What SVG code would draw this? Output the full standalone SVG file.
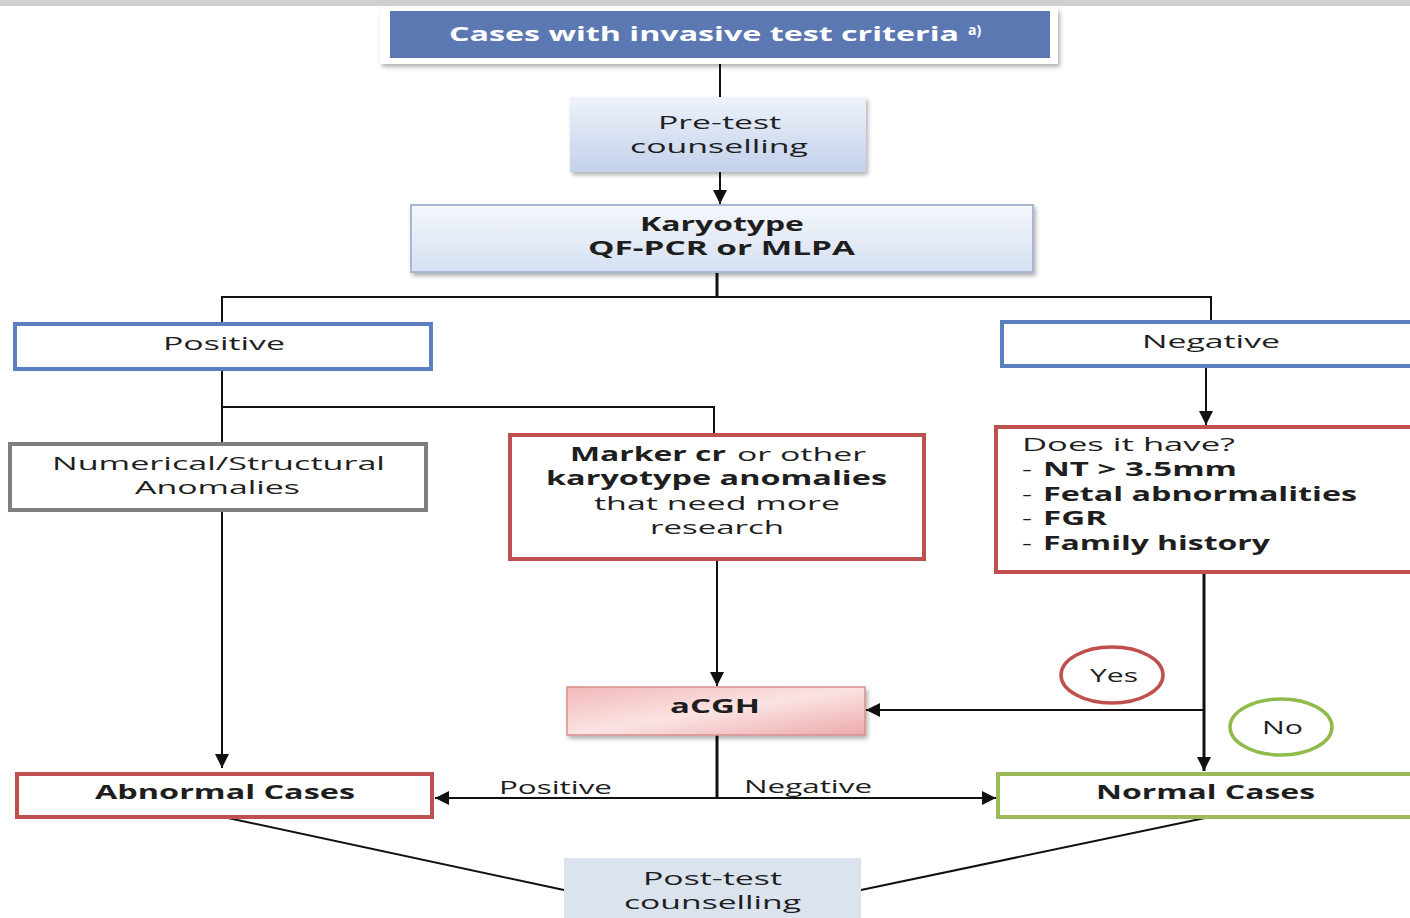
<svg xmlns="http://www.w3.org/2000/svg" width="1410" height="918" viewBox="0 0 1410 918">
<defs>
<linearGradient id="gBlue" x1="0" y1="0" x2="0" y2="1"><stop offset="0" stop-color="#eef2fa"/><stop offset="1" stop-color="#c3d1ec"/></linearGradient>
<linearGradient id="gKar" x1="0" y1="0" x2="0" y2="1"><stop offset="0" stop-color="#f4f7fc"/><stop offset="1" stop-color="#d6e0f2"/></linearGradient>
<linearGradient id="gPink" x1="0" y1="0" x2="1" y2="1"><stop offset="0" stop-color="#f2b8b8"/><stop offset="0.5" stop-color="#fbe3e3"/><stop offset="1" stop-color="#eda9a9"/></linearGradient>
<filter id="sh" x="-5%" y="-20%" width="110%" height="150%"><feDropShadow dx="2" dy="3" stdDeviation="2" flood-color="#000" flood-opacity="0.3"/></filter>
<marker id="arr" viewBox="0 0 10 10" refX="10" refY="5" markerWidth="14" markerHeight="14" markerUnits="userSpaceOnUse" orient="auto"><path d="M0,0 L10,5 L0,10 z" fill="#111"/></marker>
<style>
text{font-family:"Open Sans","DejaVu Sans",sans-serif;font-size:19px;fill:#1e1e1e}
.b{font-weight:bold}
.ln{fill:none;stroke:#111;stroke-width:2}
.th{fill:none;stroke:#111;stroke-width:3}
.box{fill:#fff;stroke-width:4}
</style>
</defs>
<rect x="0" y="0" width="1410" height="6" fill="#cfcfcf"/>
<g id="connectors">
<line class="ln" x1="720" y1="64" x2="720" y2="97"/>
<line class="ln" x1="720" y1="172" x2="720" y2="204" marker-end="url(#arr)"/>
<line class="th" x1="717" y1="272" x2="717" y2="297"/>
<polyline class="ln" points="222,323 222,297 1211,297 1211,321"/>
<line class="ln" x1="222" y1="370" x2="222" y2="443"/>
<polyline class="ln" points="222,407 714,407 714,434"/>
<line class="ln" x1="1206" y1="367" x2="1206" y2="425" marker-end="url(#arr)"/>
<line class="ln" x1="222" y1="511" x2="222" y2="768" marker-end="url(#arr)"/>
<line class="ln" x1="717" y1="560" x2="717" y2="686" marker-end="url(#arr)"/>
<line class="th" x1="1204" y1="573" x2="1204" y2="771" marker-end="url(#arr)"/>
<line class="ln" x1="1204" y1="710" x2="866" y2="710" marker-end="url(#arr)"/>
<line class="th" x1="717" y1="735" x2="717" y2="798"/>
<line class="ln" x1="717" y1="798" x2="435" y2="798" marker-end="url(#arr)"/>
<line class="ln" x1="717" y1="798" x2="996" y2="798" marker-end="url(#arr)"/>
<line class="ln" x1="228" y1="818" x2="564" y2="890" stroke-width="1.5"/>
<line class="ln" x1="1205" y1="818" x2="861" y2="890" stroke-width="1.5"/>
<text x="499" y="794" textLength="113" lengthAdjust="spacingAndGlyphs">Positive</text>
<text x="744" y="793" textLength="128" lengthAdjust="spacingAndGlyphs">Negative</text>
</g>
<g id="top">
<rect x="380" y="8" width="678" height="56" fill="#fff" filter="url(#sh)"/>
<rect x="390" y="11" width="660" height="47" fill="#5b78b3"/>
<text x="449" y="41" class="b" style="fill:#fff" textLength="510" lengthAdjust="spacingAndGlyphs">Cases with invasive test criteria</text>
<text x="968" y="35" class="b" style="fill:#fff;font-size:14px">a)</text>
</g>
<g id="pretest">
<rect x="570" y="97" width="296" height="75" fill="url(#gBlue)" filter="url(#sh)"/>
<text x="658" y="129" textLength="123" lengthAdjust="spacingAndGlyphs">Pre-test</text>
<text x="630" y="153" textLength="178" lengthAdjust="spacingAndGlyphs">counselling</text>
</g>
<g id="karyotype">
<rect x="411" y="205" width="622" height="67" fill="url(#gKar)" stroke="#a7b6d3" stroke-width="2" filter="url(#sh)"/>
<text x="640" y="231" class="b" textLength="164" lengthAdjust="spacingAndGlyphs">Karyotype</text>
<text x="588" y="255" class="b" textLength="267" lengthAdjust="spacingAndGlyphs">QF-PCR or MLPA</text>
</g>
<g id="positive">
<rect class="box" x="15" y="324" width="416" height="45" stroke="#5b7fc0"/>
<text x="163" y="350" textLength="122" lengthAdjust="spacingAndGlyphs">Positive</text>
</g>
<g id="negative">
<rect class="box" x="1002" y="322" width="412" height="44" stroke="#5b7fc0"/>
<text x="1142" y="348" textLength="138" lengthAdjust="spacingAndGlyphs">Negative</text>
</g>
<g id="numerical">
<rect class="box" x="10" y="444" width="416" height="66" stroke="#7f7f7f"/>
<text x="52" y="470" textLength="333" lengthAdjust="spacingAndGlyphs">Numerical/Structural</text>
<text x="135" y="494" textLength="165" lengthAdjust="spacingAndGlyphs">Anomalies</text>
</g>
<g id="marker">
<rect class="box" x="510" y="435" width="414" height="124" stroke="#c0504d"/>
<text x="570" y="461" class="b" textLength="156" lengthAdjust="spacingAndGlyphs">Marker cr</text>
<text x="737" y="461" textLength="129" lengthAdjust="spacingAndGlyphs">or other</text>
<text x="546" y="485" class="b" textLength="341" lengthAdjust="spacingAndGlyphs">karyotype anomalies</text>
<text x="594" y="510" textLength="246" lengthAdjust="spacingAndGlyphs">that need more</text>
<text x="650" y="534" textLength="134" lengthAdjust="spacingAndGlyphs">research</text>
</g>
<g id="doesit">
<rect class="box" x="996" y="427" width="418" height="145" stroke="#c0504d"/>
<text x="1022" y="451" textLength="213" lengthAdjust="spacingAndGlyphs">Does it have?</text>
<text x="1022" y="476" textLength="10" lengthAdjust="spacingAndGlyphs">-</text>
<text x="1043" y="476" class="b" textLength="194" lengthAdjust="spacingAndGlyphs">NT &gt; 3.5mm</text>
<text x="1022" y="501" textLength="10" lengthAdjust="spacingAndGlyphs">-</text>
<text x="1043" y="501" class="b" textLength="314" lengthAdjust="spacingAndGlyphs">Fetal abnormalities</text>
<text x="1022" y="525" textLength="10" lengthAdjust="spacingAndGlyphs">-</text>
<text x="1043" y="525" class="b" textLength="64" lengthAdjust="spacingAndGlyphs">FGR</text>
<text x="1022" y="550" textLength="10" lengthAdjust="spacingAndGlyphs">-</text>
<text x="1043" y="550" class="b" textLength="227" lengthAdjust="spacingAndGlyphs">Family history</text>
</g>
<g id="acgh">
<rect x="567" y="687" width="298" height="48" fill="url(#gPink)" stroke="#d98f8f" stroke-width="1.5" filter="url(#sh)"/>
<text x="670" y="713" class="b" textLength="90" lengthAdjust="spacingAndGlyphs">aCGH</text>
</g>
<g id="yes">
<ellipse cx="1112" cy="675" rx="51" ry="28" fill="#fff" stroke="#c0504d" stroke-width="3.5"/>
<text x="1090" y="682" textLength="48" lengthAdjust="spacingAndGlyphs">Yes</text>
</g>
<g id="no">
<ellipse cx="1281" cy="727" rx="51" ry="28" fill="#fff" stroke="#8fbb4a" stroke-width="3.5"/>
<text x="1262" y="734" textLength="41" lengthAdjust="spacingAndGlyphs">No</text>
</g>
<g id="abnormal">
<rect class="box" x="17" y="774" width="415" height="43" stroke="#c0504d"/>
<text x="95" y="799" class="b" textLength="260" lengthAdjust="spacingAndGlyphs">Abnormal Cases</text>
</g>
<g id="normal">
<rect class="box" x="998" y="774" width="416" height="43" stroke="#9bbb59"/>
<text x="1096" y="799" class="b" textLength="219" lengthAdjust="spacingAndGlyphs">Normal Cases</text>
</g>
<g id="posttest">
<rect x="564" y="858" width="297" height="62" fill="#dbe3ef"/>
<text x="643" y="885" textLength="139" lengthAdjust="spacingAndGlyphs">Post-test</text>
<text x="624" y="909" textLength="177" lengthAdjust="spacingAndGlyphs">counselling</text>
</g>
</svg>
